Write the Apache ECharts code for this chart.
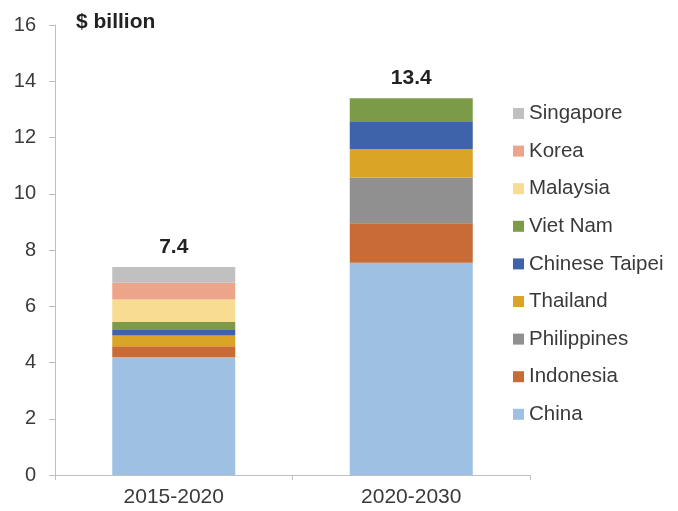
<!DOCTYPE html>
<html>
<head>
<meta charset="utf-8">
<script src="https://cdn.jsdelivr.net/npm/echarts@6/dist/echarts.min.js"></script>
<style>
  html, body { margin: 0; padding: 0; background: #ffffff; }
  #chart { width: 678px; height: 511px; }
</style>
</head>
<body>
<div id="chart"></div>
<script>
// Periods on the x axis
const periods = ['2015-2020', '2020-2030'];

// Investment by economy, $ billion (stacked bottom to top)
const china = [4.2, 7.55];
const indonesia = [0.38, 1.4];
const philippines = [0, 1.63];
const thailand = [0.38, 1.0];
const chineseTaipei = [0.2, 1.0];
const vietNam = [0.28, 0.82];
const malaysia = [0.8, 0];
const korea = [0.6, 0];
const singapore = [0.56, 0];

// Totals printed above each bar
const totals = [7.4, 13.4];

// Y axis ticks
const yTicks = [0, 2, 4, 6, 8, 10, 12, 14, 16];

const stackSeries = [
  { name: 'China', data: china, color: '#9dc0e3' },
  { name: 'Indonesia', data: indonesia, color: '#c96b36' },
  { name: 'Philippines', data: philippines, color: '#909090' },
  { name: 'Thailand', data: thailand, color: '#daa526' },
  { name: 'Chinese Taipei', data: chineseTaipei, color: '#3e63aa' },
  { name: 'Viet Nam', data: vietNam, color: '#7c9b49' },
  { name: 'Malaysia', data: malaysia, color: '#f7dc92' },
  { name: 'Korea', data: korea, color: '#eca58a' },
  { name: 'Singapore', data: singapore, color: '#c0c0c0' }
];

const FONT = 'Liberation Sans, Arial, sans-serif';
const TEXT = '#3a3a3a';
const BAR_W = 123;

const chart = echarts.init(document.getElementById('chart'), null, { renderer: 'canvas' });

const series = stackSeries.map(s => ({
  name: s.name,
  type: 'bar',
  stack: 'total',
  data: s.data,
  barWidth: BAR_W,
  itemStyle: { color: s.color },
  emphasis: { disabled: true }
}));

series.push({
  name: 'Total',
  type: 'bar',
  data: totals,
  barWidth: BAR_W,
  barGap: '-100%',
  z: 1,
  itemStyle: { color: 'rgba(0,0,0,0)' },
  label: {
    show: true,
    position: 'top',
    distance: 9,
    fontFamily: FONT,
    fontSize: 21,
    fontWeight: 'bold',
    color: '#222',
    formatter: p => p.value.toFixed(1)
  },
  emphasis: { disabled: true }
});

chart.setOption({
  animation: false,
  backgroundColor: '#ffffff',
  grid: { left: 55, right: 148, top: 25, bottom: 36, containLabel: false },
  title: {
    text: '$ billion',
    left: 71,
    top: 7,
    textStyle: { fontFamily: FONT, fontSize: 21, fontWeight: 'bold', color: '#222' }
  },
  legend: {
    orient: 'vertical',
    left: 508,
    top: 98,
    itemWidth: 11,
    itemHeight: 11,
    itemGap: 16.6,
    icon: 'rect',
    data: stackSeries.map(s => s.name).reverse(),
    textStyle: { fontFamily: FONT, fontSize: 20.5, color: TEXT, lineHeight: 21 }
  },
  xAxis: {
    type: 'category',
    data: periods,
    axisLine: { show: true, lineStyle: { color: '#bfbfbf', width: 1 } },
    axisTick: { show: true, length: 5, alignWithLabel: false, lineStyle: { color: '#bfbfbf' } },
    axisLabel: { fontFamily: FONT, fontSize: 21, color: TEXT, margin: 12 }
  },
  yAxis: {
    type: 'value',
    min: yTicks[0],
    max: yTicks[yTicks.length - 1],
    interval: yTicks[1] - yTicks[0],
    splitLine: { show: false },
    axisLine: { show: true, lineStyle: { color: '#bfbfbf', width: 1 } },
    axisTick: { show: true, length: 6, lineStyle: { color: '#bfbfbf' } },
    axisLabel: { fontFamily: FONT, fontSize: 20, color: TEXT, margin: 19 }
  },
  series: series
});
</script>
</body>
</html>
